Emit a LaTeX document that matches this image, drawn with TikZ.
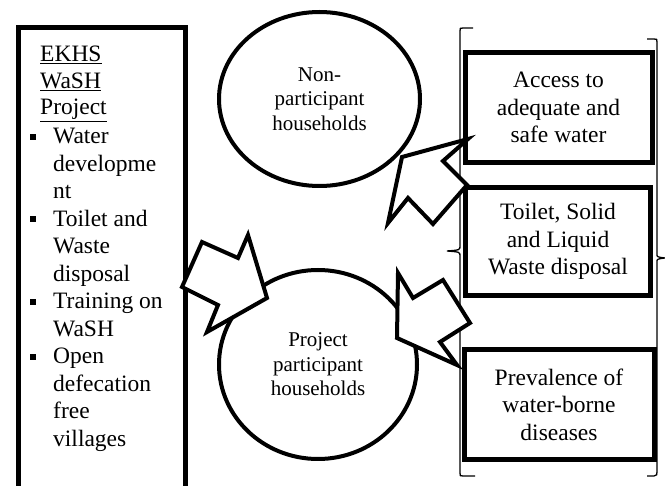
\documentclass[tikz,border=0pt]{standalone}
\usepackage{fontspec}
\setmainfont{Liberation Serif}
\usetikzlibrary{shapes.geometric}
\begin{document}
\begin{tikzpicture}[x=1pt,y=-1pt,
  frame/.style={draw, line width=5pt, rectangle, outer sep=0pt, inner sep=0pt},
  outcome/.style={frame, align=center, font=\fontsize{23.5}{27.5}\selectfont},
  hh/.style={ellipse, draw, line width=4pt, outer sep=0pt, inner sep=0pt, align=center, font=\fontsize{21}{24.5}\selectfont},
  lefttext/.style={anchor=base west, inner sep=0pt, font=\fontsize{23.5}{27.5}\selectfont},
  blockarrow/.style={draw, fill=white, line width=4pt, line join=miter, miter limit=10},
  bracketline/.style={line width=1.3pt}
]
\useasboundingbox (0,0) rectangle (665,486);

% left project box
\node[frame, minimum width=167pt, minimum height=475pt, anchor=north west] (proj) at (18,27.5) {};
\foreach \txt/\yy [count=\k] in {EKHS/62, WaSH/88.5, Project/115}
  \node[lefttext] (title\k) at (40,\yy) {\underline{\txt}};
\foreach \txt/\yy [count=\k] in {Water/143.7, developme/171.2, nt/198.7, Toilet and/226.2, Waste/253.7, disposal/281.2, Training on/308.7, WaSH/336.2, Open/363.7, defecation/391.2, free/418.7, villages/446.2}
  \node[lefttext] (item\k) at (53,\yy) {\txt};
\foreach \yy in {143.7, 226.2, 308.7, 363.7}
  \fill (30,\yy-10) rectangle ++(6,6);

% households
\node[hh, minimum width=201pt, minimum height=174pt] (non) at (319.5,99) {Non-\\participant\\households};
\node[hh, minimum width=198pt, minimum height=189pt] (part) at (318,364.5) {Project\\participant\\households};

% outcome boxes
\node[outcome, minimum width=187pt, minimum height=110.5pt] (water) at (558.5,107.75) {Access to\\adequate and\\safe water};
\node[outcome, minimum width=185pt, minimum height=108pt] (toilet) at (558,241.5) {Toilet, Solid\\and Liquid\\Waste disposal};
\node[outcome, minimum width=190pt, minimum height=110pt] (disease) at (559,404.5) {Prevalence of\\water-borne\\diseases};

% brackets
\draw[bracketline] (473,28) -- (463,28) .. controls (460,28) .. (460,31) -- (460,246)
  .. controls (460,250) .. (447,251) .. controls (460,252) .. (460,256) -- (460,473)
  .. controls (460,476) .. (463,476) -- (475,476);
\draw[bracketline] (647,39) -- (654,39) .. controls (657,39) .. (657,42) -- (657,254)
  .. controls (657,257) .. (665,258) .. controls (657,259) .. (657,262) -- (657,472)
  .. controls (657,475) .. (654,476) -- (647,476);

% block arrows
\draw[blockarrow] (182,287) -- (202,242) -- (238,258) -- (248,235) -- (267,298) -- (207,332) -- (218,305) -- cycle;
\draw[blockarrow] (402,157) -- (468,139) -- (443,161) -- (467,185) -- (433,224) -- (408,198) -- (388,223) -- cycle;
\draw[blockarrow] (398,273) -- (413,298) -- (443,280) -- (470,323) -- (440,342) -- (457,365) -- (397,338) -- cycle;
\end{tikzpicture}
\end{document}
